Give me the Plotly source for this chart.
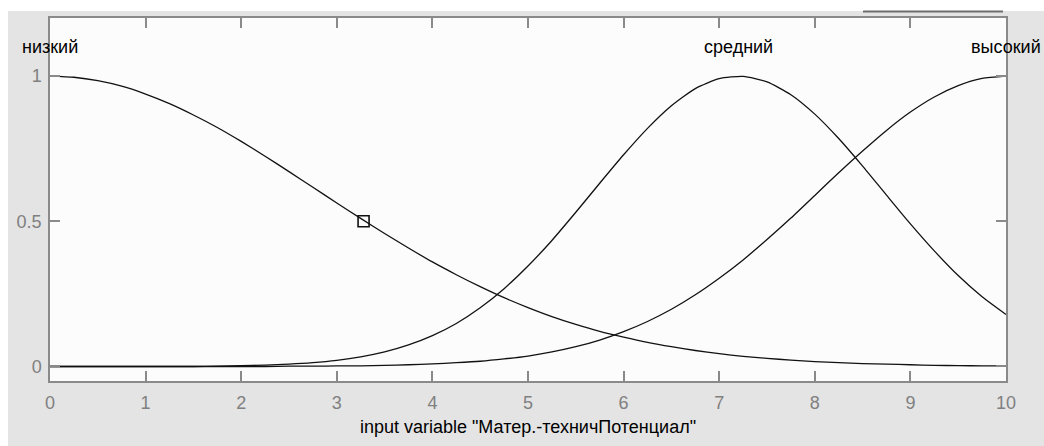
import plotly.graph_objects as go

# ---- data ----
x_vals = [0.0, 0.25, 0.5, 0.75, 1.0, 1.25, 1.5, 1.75, 2.0, 2.25, 2.5, 2.75, 3.0, 3.25,
          3.5, 3.75, 4.0, 4.25, 4.5, 4.75, 5.0, 5.25, 5.5, 5.75, 6.0, 6.25, 6.5, 6.75,
          7.0, 7.25, 7.5, 7.75, 8.0, 8.25, 8.5, 8.75, 9.0, 9.25, 9.5, 9.75, 10.0]

low_vals = [1.000, 0.996, 0.984, 0.965, 0.938, 0.905, 0.866, 0.823, 0.775, 0.724, 0.671,
            0.617, 0.563, 0.510, 0.458, 0.408, 0.360, 0.316, 0.275, 0.237, 0.203, 0.172,
            0.145, 0.121, 0.101, 0.083, 0.068, 0.055, 0.044, 0.035, 0.028, 0.022, 0.017,
            0.013, 0.010, 0.008, 0.006, 0.004, 0.003, 0.002, 0.002]

mid_vals = [0.000, 0.000, 0.000, 0.000, 0.000, 0.000, 0.000, 0.001, 0.003, 0.005, 0.008,
            0.013, 0.021, 0.033, 0.050, 0.074, 0.106, 0.148, 0.202, 0.268, 0.346, 0.434,
            0.531, 0.631, 0.729, 0.820, 0.898, 0.957, 0.991, 0.999, 0.980, 0.936, 0.869,
            0.785, 0.690, 0.590, 0.491, 0.398, 0.313, 0.240, 0.179]

high_vals = [0.000, 0.000, 0.000, 0.000, 0.000, 0.000, 0.000, 0.000, 0.000, 0.000, 0.001,
             0.001, 0.002, 0.002, 0.004, 0.006, 0.009, 0.013, 0.018, 0.026, 0.036, 0.050,
             0.068, 0.091, 0.120, 0.155, 0.197, 0.247, 0.304, 0.367, 0.437, 0.511, 0.589,
             0.667, 0.742, 0.813, 0.876, 0.928, 0.967, 0.992, 1.000]

mf_names = ["низкий", "средний", "высокий"]
mf_label_x = [0.0, 7.2, 10.0]
mf_label_y = [1.1, 1.1, 1.1]

marker_x = [3.28]
marker_y = [0.5]

x_ticks = [0, 1, 2, 3, 4, 5, 6, 7, 8, 9, 10]
y_ticks = [0, 0.5, 1]
y_tick_text = ["0", "0.5", "1"]
x_title = 'input variable "Матер.-техничПотенциал"'

# ---- figure ----
FONT = "Liberation Sans, Arial, sans-serif"
fig = go.Figure()

for ys in (low_vals, mid_vals, high_vals):
    fig.add_trace(go.Scatter(x=x_vals, y=ys, mode="lines",
                             line=dict(color="#111111", width=1.3, shape="spline", smoothing=0.6),
                             hoverinfo="skip", showlegend=False))

fig.add_trace(go.Scatter(x=marker_x, y=marker_y, mode="markers",
                         marker=dict(symbol="square-open", size=11, color="#111111",
                                     line=dict(width=1.6, color="#111111")),
                         showlegend=False))

for name, lx, ly in zip(mf_names, mf_label_x, mf_label_y):
    fig.add_annotation(x=lx, y=ly, text=name, showarrow=False,
                       font=dict(family=FONT, size=18, color="#000000"),
                       xanchor="center", yanchor="middle")

axis_col = "#8a8a8a"
fig.update_layout(
    width=1044, height=446,
    margin=dict(l=50, r=38, t=18, b=62),
    paper_bgcolor="#ffffff",
    plot_bgcolor="#fcfcfc",
    font=dict(family=FONT, size=18, color="#808080"),
    shapes=[
        dict(type="rect", xref="paper", yref="paper", x0=-0.0439, x1=1.05, y0=-0.25, y1=1.0191,
             fillcolor="#e4e4e4", line=dict(width=0), layer="below"),
        dict(type="rect", xref="paper", yref="paper", x0=0, x1=1, y0=0, y1=1,
             fillcolor="#fcfcfc", line=dict(width=0), layer="below"),
        dict(type="line", xref="paper", yref="paper", x0=0.8504, x1=0.9969, y0=1.0178, y1=1.0178,
             line=dict(color="#6e6e6e", width=2), layer="above"),
    ],
)

fig.update_xaxes(range=[0, 10], tickvals=x_ticks, ticks="inside", ticklen=10, tickwidth=1.5,
                 tickcolor=axis_col, showline=True, linecolor=axis_col, linewidth=1.5,
                 mirror="ticks", showgrid=False, zeroline=False, ticklabelstandoff=5,
                 tickfont=dict(family=FONT, size=18, color="#808080"),
                 title=dict(text=x_title, font=dict(family=FONT, size=18, color="#000000"),
                            standoff=8))
fig.update_yaxes(range=[-0.05, 1.2], tickvals=y_ticks, ticktext=y_tick_text, ticks="inside",
                 ticklen=10, tickwidth=1.5, tickcolor=axis_col, showline=True,
                 linecolor=axis_col, linewidth=1.5, mirror="ticks", showgrid=False,
                 zeroline=False, ticklabelstandoff=3,
                 tickfont=dict(family=FONT, size=18, color="#808080"))

fig.write_html("out.html")
